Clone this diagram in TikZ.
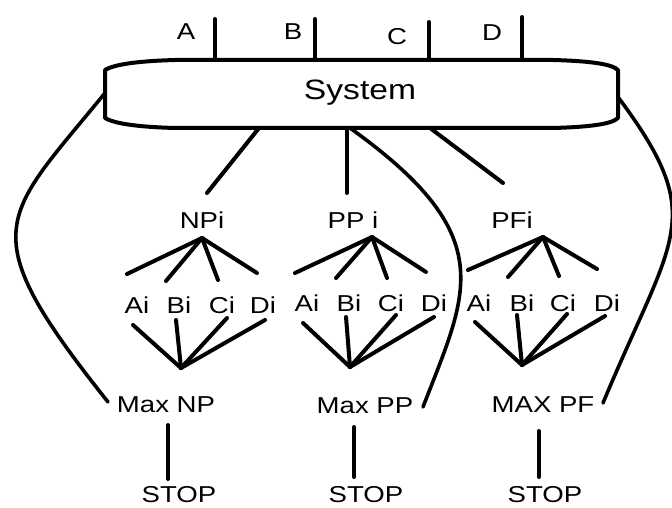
\documentclass[tikz,border=0pt]{standalone}
\usepackage{fontspec}
\setmainfont{Liberation Sans}[FakeStretch=1.2]
\begin{document}
\begin{tikzpicture}[x=1pt,y=-1pt,
  ln/.style={line width=4pt,line cap=round,line join=round},
  crv/.style={line width=3.6pt,line cap=round},
  lbl/.style={inner sep=0pt,anchor=base,font=\fontsize{23}{27}\selectfont},
  ttl/.style={inner sep=0pt,anchor=base,font=\fontsize{28}{32}\selectfont}]
\useasboundingbox (0,0) rectangle (672,508);
\fill[white] (0,0) rectangle (672,508);

% system box
\draw[ln] (175,60) -- (553,60) .. controls (590,61) and (612,64) .. (618,70)
  -- (618,118) .. controls (612,124) and (590,127) .. (553,128)
  -- (175,128) .. controls (140,127) and (115,124) .. (105,118)
  -- (105,70) .. controls (115,64) and (140,61) .. (175,60) -- cycle;
\node[ttl] (sys) at (360,100) {System};

% inputs
\node[lbl] (la) at (186,40) {A};
\node[lbl] (lb) at (293,40) {B};
\node[lbl] (lc) at (397,45) {C};
\node[lbl] (ld) at (492,41) {D};
\coordinate (top) at (0,60);
\foreach \n/\x/\y in {ta/215/19, tb/315/19, tc/429/22, td/522/17}{
  \coordinate (\n) at (\x,\y);
  \draw[ln] (\n) -- (\n |- top);
}

% ---------- NPi branch
\node[lbl] (np) at (202,228) {NPi};
\coordinate (s1) at (259,128); \coordinate (s1e) at (207,193);
\draw[ln] (s1) -- (s1e);
\coordinate (npa) at (202,238);
\foreach \x/\y in {127/274, 166/281, 218/280, 257/273}{
  \coordinate (e) at (\x,\y); \draw[ln] (npa) -- (e);
}
\node[lbl] (na) at (137,313) {Ai};
\node[lbl] (nb) at (179,313) {Bi};
\node[lbl] (nc) at (222,313) {Ci};
\node[lbl] (nd) at (263,313) {Di};
\coordinate (npb) at (181,368);
\foreach \x/\y in {133/325, 176/320, 227/318, 265/320}{
  \coordinate (e) at (\x,\y); \draw[ln] (npb) -- (e);
}
\node[lbl] (mnp) at (166,412) {Max NP};
\coordinate (m1a) at (168,425); \coordinate (m1b) at (168,479);
\draw[ln] (m1a) -- (m1b);
\node[lbl] (st1) at (179,502) {STOP};

% ---------- PPi branch
\node[lbl] (pp) at (353,228) {PP i};
\coordinate (s2) at (347,128); \coordinate (s2e) at (347,193);
\draw[ln] (s2) -- (s2e);
\coordinate (ppa) at (372,237);
\foreach \x/\y in {295/273, 336/278, 387/278, 426/272}{
  \coordinate (e) at (\x,\y); \draw[ln] (ppa) -- (e);
}
\node[lbl] (pa) at (307,311) {Ai};
\node[lbl] (pb) at (349,311) {Bi};
\node[lbl] (pc) at (391,311) {Ci};
\node[lbl] (pd) at (434,311) {Di};
\coordinate (ppb) at (350,367);
\foreach \x/\y in {303/323, 346/317, 396/315, 434/317}{
  \coordinate (e) at (\x,\y); \draw[ln] (ppb) -- (e);
}
\node[lbl] (mpp) at (365,413) {Max PP};
\coordinate (m2a) at (354,427); \coordinate (m2b) at (354,477);
\draw[ln] (m2a) -- (m2b);
\node[lbl] (st2) at (366,502) {STOP};

% ---------- PFi branch
\node[lbl] (pf) at (512,228) {PFi};
\coordinate (s3) at (430,128); \coordinate (s3e) at (503,183);
\draw[ln] (s3) -- (s3e);
\coordinate (pfa) at (543,237);
\foreach \x/\y in {468/270, 508/277, 559/276, 597/269}{
  \coordinate (e) at (\x,\y); \draw[ln] (pfa) -- (e);
}
\node[lbl] (fa) at (479,311) {Ai};
\node[lbl] (fb) at (522,311) {Bi};
\node[lbl] (fc) at (563,311) {Ci};
\node[lbl] (fd) at (607,311) {Di};
\coordinate (pfb) at (522,365);
\foreach \x/\y in {475/322, 517/315, 567/314, 605/316}{
  \coordinate (e) at (\x,\y); \draw[ln] (pfb) -- (e);
}
\node[lbl] (mpf) at (543,412) {MAX PF};
\coordinate (m3a) at (539,431); \coordinate (m3b) at (539,477);
\draw[ln] (m3a) -- (m3b);
\node[lbl] (st3) at (545,502) {STOP};

% ---------- feedback curves
\coordinate (cl0) at (105,93);  \coordinate (cl1) at (108,402);
\coordinate (cr0) at (618,97);  \coordinate (cr1) at (603,403);
\coordinate (cm0) at (350,128); \coordinate (cm1) at (423,407);
\draw[crv] (cl0) .. controls (2,219.5) and (-30,228.5) .. (cl1);
\draw[crv] (cr0) .. controls (708.6,218.7) and (673.7,233.3) .. (cr1);
\draw[crv] (cm0) .. controls (501.5,236.6) and (467.5,291.7) .. (cm1);
\end{tikzpicture}
\end{document}
